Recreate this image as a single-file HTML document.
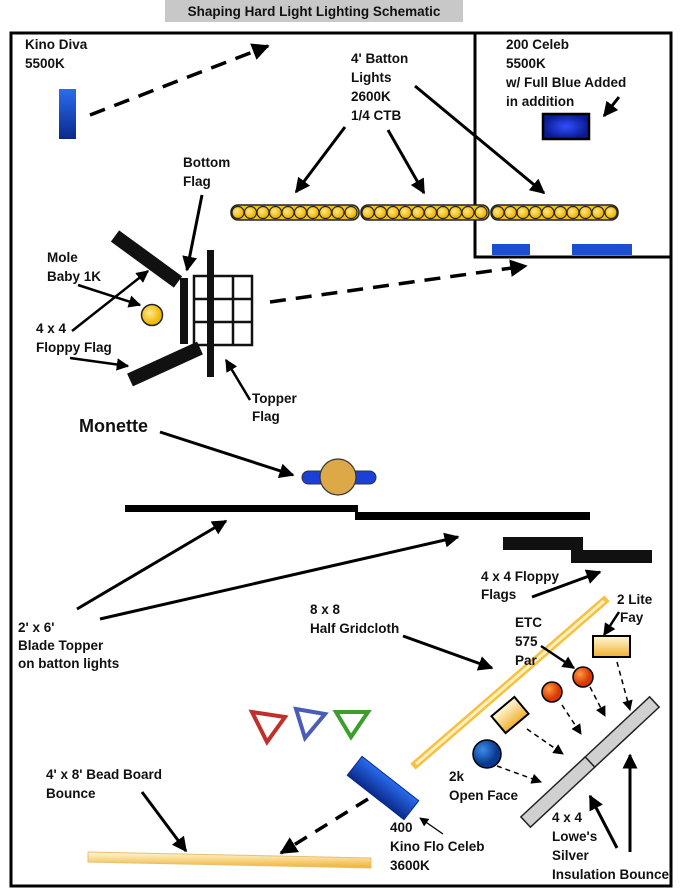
<!DOCTYPE html>
<html><head><meta charset="utf-8"><style>
html,body{margin:0;padding:0;background:#fff;}
svg{display:block;}
text{font-family:"Liberation Sans",Arial,sans-serif;font-weight:bold;font-size:13.5px;fill:#111;}
</style></head><body>
<svg width="690" height="893" viewBox="0 0 690 893" xmlns="http://www.w3.org/2000/svg">
<defs>
<marker id="ah" viewBox="0 0 10 10" refX="9" refY="5" markerWidth="5" markerHeight="5" orient="auto-start-reverse" markerUnits="strokeWidth"><path d="M0,0 L10,5 L0,10 z" fill="#000"/></marker>
<marker id="ah2" viewBox="0 0 10 10" refX="9" refY="5" markerWidth="7" markerHeight="7" orient="auto" markerUnits="strokeWidth"><path d="M0,0 L10,5 L0,10 z" fill="#000"/></marker>
<linearGradient id="blu" x1="0" y1="0" x2="0" y2="1"><stop offset="0" stop-color="#2a6cf0"/><stop offset="1" stop-color="#0a2a8a"/></linearGradient>
<radialGradient id="blu2"><stop offset="0" stop-color="#3050ff"/><stop offset="1" stop-color="#0a1a90"/></radialGradient>
<linearGradient id="yel" x1="0" y1="0" x2="0" y2="1"><stop offset="0" stop-color="#fff8d8"/><stop offset="1" stop-color="#f0b030"/></linearGradient>
<radialGradient id="org" cx="0.35" cy="0.35"><stop offset="0" stop-color="#ff9a40"/><stop offset="1" stop-color="#d83800"/></radialGradient>
<radialGradient id="bl3" cx="0.35" cy="0.35"><stop offset="0" stop-color="#3c8ce8"/><stop offset="1" stop-color="#0a3a90"/></radialGradient>
<radialGradient id="dot" cx="0.4" cy="0.4"><stop offset="0" stop-color="#ffe890"/><stop offset="1" stop-color="#f0b800"/></radialGradient>
</defs>

<rect x="165" y="0" width="298" height="22" fill="#c8c8c8"/>
<text x="314" y="16" text-anchor="middle" font-size="13.5">Shaping Hard Light Lighting Schematic</text>

<rect x="11" y="33" width="660" height="853" fill="none" stroke="#000" stroke-width="3"/>
<polyline points="475,33 475,257 671,257" fill="none" stroke="#000" stroke-width="3"/>

<text x="25" y="49">Kino Diva</text><text x="25" y="68">5500K</text>
<rect x="59" y="89" width="17" height="50" fill="url(#blu)"/>
<line x1="90" y1="115" x2="268" y2="46" stroke="#000" stroke-width="3.5" stroke-dasharray="16,10" marker-end="url(#ah)"/>

<text x="351" y="63">4' Batton</text><text x="351" y="82">Lights</text><text x="351" y="101">2600K</text><text x="351" y="120">1/4 CTB</text>
<line x1="345" y1="127" x2="296" y2="192" stroke="#000" stroke-width="3" marker-end="url(#ah)"/>
<line x1="388" y1="130" x2="424" y2="193" stroke="#000" stroke-width="3" marker-end="url(#ah)"/>
<line x1="415" y1="86" x2="544" y2="193" stroke="#000" stroke-width="3" marker-end="url(#ah)"/>

<text x="506" y="49">200 Celeb</text><text x="506" y="68">5500K</text><text x="506" y="87">w/ Full Blue Added</text><text x="506" y="106">in addition</text>
<line x1="619" y1="97" x2="604" y2="116" stroke="#000" stroke-width="3" marker-end="url(#ah)"/>
<rect x="543" y="114" width="46" height="25" fill="url(#blu2)" stroke="#000" stroke-width="2.5"/>

<g stroke="#222" stroke-width="1.5" fill="url(#dot)">
<rect x="231" y="205" width="128" height="15" rx="7" fill="#f5c020"/>
<rect x="361" y="205" width="128" height="15" rx="7" fill="#f5c020"/>
<rect x="491" y="205" width="127" height="15" rx="7" fill="#f5c020"/>
</g>
<g stroke="#222" stroke-width="1.2" fill="url(#dot)" id="dots">
<circle cx="238" cy="212.5" r="6"/><circle cx="250.5" cy="212.5" r="6"/><circle cx="263" cy="212.5" r="6"/><circle cx="275.5" cy="212.5" r="6"/><circle cx="288" cy="212.5" r="6"/><circle cx="300.5" cy="212.5" r="6"/><circle cx="313" cy="212.5" r="6"/><circle cx="325.5" cy="212.5" r="6"/><circle cx="338" cy="212.5" r="6"/><circle cx="351" cy="212.5" r="6"/>
<circle cx="368" cy="212.5" r="6"/><circle cx="380.5" cy="212.5" r="6"/><circle cx="393" cy="212.5" r="6"/><circle cx="405.5" cy="212.5" r="6"/><circle cx="418" cy="212.5" r="6"/><circle cx="430.5" cy="212.5" r="6"/><circle cx="443" cy="212.5" r="6"/><circle cx="455.5" cy="212.5" r="6"/><circle cx="468" cy="212.5" r="6"/><circle cx="481" cy="212.5" r="6"/>
<circle cx="498" cy="212.5" r="6"/><circle cx="510.5" cy="212.5" r="6"/><circle cx="523" cy="212.5" r="6"/><circle cx="535.5" cy="212.5" r="6"/><circle cx="548" cy="212.5" r="6"/><circle cx="560.5" cy="212.5" r="6"/><circle cx="573" cy="212.5" r="6"/><circle cx="585.5" cy="212.5" r="6"/><circle cx="598" cy="212.5" r="6"/><circle cx="611" cy="212.5" r="6"/>
</g>
<rect x="492" y="244" width="38" height="11" fill="#1a50d0"/>
<rect x="572" y="244" width="60" height="11" fill="#1a50d0"/>

<text x="183" y="167">Bottom</text><text x="183" y="186">Flag</text>
<line x1="202" y1="195" x2="187" y2="270" stroke="#000" stroke-width="3" marker-end="url(#ah)"/>

<text x="47" y="262">Mole</text><text x="47" y="281">Baby 1K</text>
<text x="36" y="333">4 x 4</text><text x="36" y="352">Floppy Flag</text>
<line x1="115" y1="236" x2="178" y2="282" stroke="#111" stroke-width="14"/>
<line x1="130" y1="380" x2="200" y2="348" stroke="#111" stroke-width="14"/>
<rect x="180" y="278" width="8" height="66" fill="#111"/>
<g stroke="#111" stroke-width="2.5" fill="none">
<rect x="194" y="276" width="58" height="69"/>
<line x1="233" y1="276" x2="233" y2="345"/>
<line x1="194" y1="299" x2="252" y2="299"/><line x1="194" y1="322" x2="252" y2="322"/>
</g>
<rect x="207" y="250" width="7" height="127" fill="#111"/>
<circle cx="152" cy="315" r="10.5" fill="url(#dot)" stroke="#222" stroke-width="1.5"/>
<line x1="78" y1="285" x2="140" y2="305" stroke="#000" stroke-width="2.5" marker-end="url(#ah)"/>
<line x1="72" y1="331" x2="148" y2="271" stroke="#000" stroke-width="2.5" marker-end="url(#ah)"/>
<line x1="70" y1="358" x2="128" y2="366" stroke="#000" stroke-width="2.5" marker-end="url(#ah)"/>

<text x="252" y="403">Topper</text><text x="252" y="421">Flag</text>
<line x1="250" y1="400" x2="226" y2="360" stroke="#000" stroke-width="2.5" marker-end="url(#ah)"/>
<line x1="270" y1="302" x2="526" y2="266" stroke="#000" stroke-width="3.5" stroke-dasharray="16,10" marker-end="url(#ah)"/>

<text x="79" y="432" font-size="18" style="font-size:18px">Monette</text>
<line x1="160" y1="432" x2="293" y2="475" stroke="#000" stroke-width="3" marker-end="url(#ah)"/>
<rect x="302" y="471" width="74" height="13" rx="6.5" fill="#1a40d8" stroke="#333" stroke-width="1"/>
<circle cx="338" cy="477" r="18" fill="#dca848" stroke="#333" stroke-width="1.2"/>

<polygon points="125,505 358,505 358,512 590,512 590,520 355,520 355,512 125,512" fill="#000"/>
<polygon points="503,537 583,537 583,550 652,550 652,563 571,563 571,550 503,550" fill="#111"/>

<text x="481" y="581">4 x 4 Floppy</text><text x="481" y="599">Flags</text>
<line x1="532" y1="597" x2="600" y2="572" stroke="#000" stroke-width="3" marker-end="url(#ah)"/>

<text x="18" y="632">2' x 6'</text><text x="18" y="650">Blade Topper</text><text x="18" y="668">on batton lights</text>
<line x1="77" y1="609" x2="226" y2="521" stroke="#000" stroke-width="3" marker-end="url(#ah)"/>
<line x1="100" y1="619" x2="458" y2="537" stroke="#000" stroke-width="3" marker-end="url(#ah)"/>

<text x="310" y="614">8 x 8</text><text x="310" y="633">Half Gridcloth</text>
<line x1="403" y1="636" x2="492" y2="668" stroke="#000" stroke-width="3" marker-end="url(#ah)"/>
<line x1="416" y1="764" x2="604" y2="601" stroke="#f6c040" stroke-width="8" stroke-linecap="square"/>
<line x1="416" y1="764" x2="604" y2="601" stroke="#fff0c0" stroke-width="3"/>

<text x="515" y="627">ETC</text><text x="515" y="646">575</text><text x="515" y="665">Par</text>
<line x1="541" y1="646" x2="574" y2="668" stroke="#000" stroke-width="2.5" marker-end="url(#ah)"/>
<text x="617" y="604">2 Lite</text><text x="620" y="622">Fay</text>
<line x1="619" y1="612" x2="604" y2="635" stroke="#000" stroke-width="2.5" marker-end="url(#ah)"/>
<rect x="593" y="636" width="37" height="21" fill="url(#yel)" stroke="#000" stroke-width="2"/>
<circle cx="583" cy="677" r="10" fill="url(#org)" stroke="#000" stroke-width="1.5"/>
<circle cx="552" cy="692" r="10" fill="url(#org)" stroke="#000" stroke-width="1.5"/>
<rect x="-15" y="-11" width="30" height="22" fill="url(#yel)" stroke="#000" stroke-width="2" transform="translate(510,715) rotate(-40)"/>
<circle cx="487" cy="754" r="14" fill="url(#bl3)" stroke="#000" stroke-width="1.5"/>

<g transform="translate(590,762) rotate(-43)">
<rect x="-2" y="-7" width="90" height="14" fill="#d0d0d0" stroke="#222" stroke-width="1.5"/>
<rect x="-88" y="-7" width="88" height="14" fill="#d0d0d0" stroke="#222" stroke-width="1.5"/>
</g>
<g stroke="#000" stroke-width="1.5" stroke-dasharray="5,4" marker-end="url(#ah2)">
<line x1="617" y1="662" x2="630" y2="710"/>
<line x1="590" y1="687" x2="605" y2="716"/>
<line x1="562" y1="705" x2="581" y2="734"/>
<line x1="527" y1="729" x2="563" y2="754"/>
<line x1="497" y1="766" x2="541" y2="782"/>
</g>
<text x="449" y="781">2k</text><text x="449" y="800">Open Face</text>

<text x="552" y="822">4 x 4</text><text x="552" y="841">Lowe's</text><text x="552" y="860">Silver</text><text x="552" y="879">Insulation Bounce</text>
<line x1="617" y1="848" x2="590" y2="796" stroke="#000" stroke-width="3" marker-end="url(#ah)"/>
<line x1="630" y1="852" x2="630" y2="755" stroke="#000" stroke-width="3" marker-end="url(#ah)"/>

<polygon points="252,712 285,717 267,742" fill="none" stroke="#c0302a" stroke-width="4" stroke-linejoin="miter"/>
<polygon points="296,709 325,714 305,738" fill="none" stroke="#4a5cb8" stroke-width="4"/>
<polygon points="336,712 368,712 351,737" fill="none" stroke="#3aa02a" stroke-width="4"/>

<text x="46" y="779">4' x 8' Bead Board</text><text x="46" y="798">Bounce</text>
<line x1="142" y1="792" x2="186" y2="851" stroke="#000" stroke-width="3" marker-end="url(#ah)"/>
<polygon points="88,852 371,858 371,868 88,862" fill="url(#yel)" stroke="#e8c070" stroke-width="1"/>

<g transform="translate(383,788) rotate(38)">
<rect x="-36" y="-12" width="72" height="24" fill="url(#blu)" stroke="#0a2a8a" stroke-width="1"/>
</g>
<line x1="368" y1="799" x2="281" y2="853" stroke="#000" stroke-width="3.5" stroke-dasharray="14,10" marker-end="url(#ah)"/>
<text x="390" y="832">400</text><text x="390" y="851">Kino Flo Celeb</text><text x="390" y="870">3600K</text>
<line x1="443" y1="834" x2="420" y2="818" stroke="#000" stroke-width="1.3" marker-end="url(#ah2)"/>
</svg>
</body></html>
